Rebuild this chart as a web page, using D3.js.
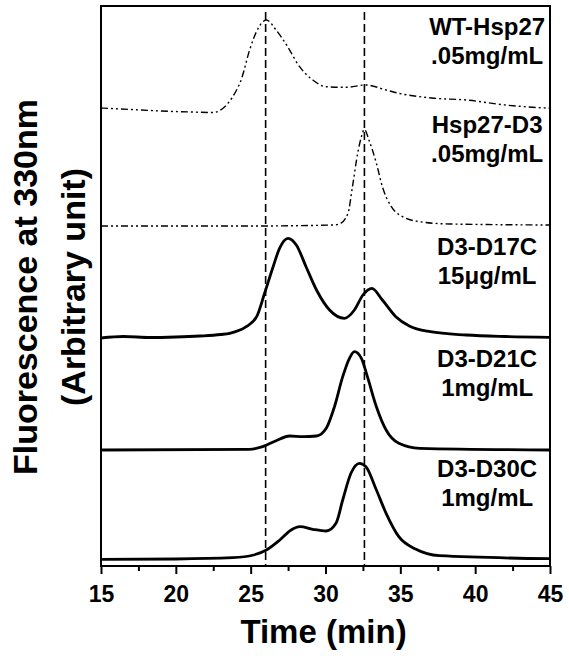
<!DOCTYPE html>
<html>
<head>
<meta charset="utf-8">
<script src="https://cdn.jsdelivr.net/npm/d3@7"></script>
<style>
  body { margin: 0; background: #fff; }
  svg text { font-family: "Liberation Sans", Arial, sans-serif; font-weight: bold; fill: #000; }
</style>
</head>
<body>
<svg id="chart" width="569" height="656"></svg>
<script>
'use strict';

// elution time (min) vs fluorescence, traces stacked with an offset (arbitrary units)
var wtHsp27 = [
	[15, 458], [17, 456.5], [19, 455], [21, 454], [22.5, 453.5], [23.27, 459.3], [23.8, 469.3],
	[24.4, 487.7], [24.93, 516], [25.5, 537.7], [26.05, 546], [26.7, 536], [27.4, 521],
	[28.27, 499.3], [29.15, 486], [30.05, 479.3], [31.4, 478.7], [32.7, 481], [34.05, 476],
	[34.9, 472.7], [37.1, 468], [39.4, 466], [42, 461], [45, 457.7]
];

var hsp27D3 = [
	[15, 340], [25, 340], [30.5, 341], [30.93, 342], [31.5, 352.7], [31.8, 379.3], [32.15, 412.7],
	[32.4, 429.3], [32.6, 436.7], [32.9, 426], [33.4, 402.7], [33.8, 379.3], [34.4, 359.3],
	[35.15, 349.3], [36.3, 344.3], [38.3, 342], [45, 341]
];

var d3D17C = [
	[15, 228], [16.5, 229.5], [18.3, 228.5], [20, 229], [21.6, 230], [23, 231.5], [23.6, 232.7],
	[24.7, 239.3], [25.4, 249.3], [25.93, 272.7], [26.5, 299.3], [26.93, 317.7], [27.5, 327.7],
	[28.05, 321], [28.7, 299.3], [29.4, 276], [30.27, 256], [31.27, 247.7], [31.93, 256],
	[32.5, 271], [33.1, 277.7], [33.8, 266], [34.7, 249.3], [35.6, 240], [37, 234.3],
	[39.4, 231], [42, 229.5], [45, 228.7]
];

var d3D21C = [
	[15, 116], [24.9, 116.7], [25.8, 119.3], [26.7, 125.3], [27.6, 130], [28.5, 129.3],
	[29.4, 130], [30.05, 137.7], [30.6, 159.3], [31.15, 189.3], [31.6, 207.7], [31.93, 214.3],
	[32.4, 207.7], [32.8, 189.3], [33.4, 159.3], [34.05, 136], [34.9, 122.7], [36.3, 117.7],
	[45, 116]
];

var d3D30C = [
	[15, 6.7], [20, 7], [23.8, 8.3], [25.2, 11], [26.05, 16], [26.95, 26], [27.7, 36],
	[28.3, 39.3], [29.15, 36.7], [30.05, 35], [30.7, 42.7], [31.15, 66], [31.7, 92.7],
	[32.27, 102.7], [32.7, 99.3], [33.4, 76], [34.05, 52.7], [34.9, 29.3], [36.05, 16.7],
	[37.6, 10.3], [45, 7.3]
];

var traceNames = ['WT-Hsp27', 'Hsp27-D3', 'D3-D17C', 'D3-D21C', 'D3-D30C'];
var traceConc = ['.05mg/mL', '.05mg/mL', '15\u03bcg/mL', '1mg/mL', '1mg/mL'];
var traceStyle = ['dashdot', 'dashdot', 'solid', 'solid', 'solid'];
var refTimes = [26.0, 32.6];   // dashed reference lines
var xTicks = [15, 20, 25, 30, 35, 40, 45];
var xMinorTicks = [17.5, 22.5, 27.5, 32.5, 37.5, 42.5];

var traces = [wtHsp27, hsp27D3, d3D17C, d3D21C, d3D30C];

// layout
var plotL = 101, plotR = 550, plotT = 6, plotB = 566;
var svg = d3.select('#chart');

var x = d3.scaleLinear().domain([15, 45]).range([plotL, plotR]);
var y = d3.scaleLinear().domain([0, 560]).range([plotB, plotT]);

// - dashed reference lines
svg.selectAll('line.ref')
	.data(refTimes)
	.join('line')
		.attr('class', 'ref')
		.attr('x1', d => x(d)).attr('x2', d => x(d))
		.attr('y1', plotT + 6).attr('y2', plotB)
		.attr('stroke', '#000')
		.attr('stroke-width', 1.6)
		.attr('stroke-dasharray', '8,4');

// - traces
var line = d3.line()
	.x(d => x(d[0]))
	.y(d => y(d[1]))
	.curve(d3.curveMonotoneX);

svg.selectAll('path.trace')
	.data(traces)
	.join('path')
		.attr('class', 'trace')
		.attr('d', line)
		.attr('fill', 'none')
		.attr('stroke', '#000')
		.attr('stroke-linejoin', 'round')
		.attr('stroke-width', (d, i) => traceStyle[i] == 'solid' ? 2.8 : 1.4)
		.attr('stroke-dasharray', (d, i) => traceStyle[i] == 'solid' ? null : '7,3,2,3,2,3');

// - frame
svg.append('rect')
	.attr('x', plotL).attr('y', plotT)
	.attr('width', plotR - plotL).attr('height', plotB - plotT)
	.attr('fill', 'none')
	.attr('stroke', '#000')
	.attr('stroke-width', 2);

// - x axis
var xAxis = d3.axisBottom(x)
	.tickValues(xTicks)
	.tickSize(8)
	.tickPadding(12)
	.tickFormat(d3.format('d'));

var gx = svg.append('g')
	.attr('transform', `translate(0,${plotB})`)
	.call(xAxis);
gx.select('.domain').remove();
gx.selectAll('.tick line').attr('stroke-width', 2);
gx.selectAll('.tick text')
	.attr('font-size', 23)
	.attr('font-family', '"Liberation Sans", Arial, sans-serif')
	.attr('font-weight', 'bold');

var gxMinor = svg.append('g')
	.attr('transform', `translate(0,${plotB})`)
	.call(d3.axisBottom(x).tickValues(xMinorTicks).tickSize(5).tickFormat(''));
gxMinor.select('.domain').remove();
gxMinor.selectAll('.tick line').attr('stroke-width', 2);

// - labels on the traces
var labelX = x(40.8);
var labelY = [35, 133, 255, 367, 477];   // baseline of first line
traceNames.forEach((name, i) =>
{
	let t = svg.append('text')
		.attr('x', labelX)
		.attr('y', labelY[i])
		.attr('text-anchor', 'middle')
		.attr('font-size', 24);
	t.append('tspan').attr('x', labelX).text(name);
	t.append('tspan').attr('x', labelX).attr('dy', 29).text(traceConc[i]);
});

// - axis titles
svg.append('text')
	.attr('x', (plotL + plotR) / 2 - 2)
	.attr('y', 643)
	.attr('text-anchor', 'middle')
	.attr('font-size', 33)
	.text('Time (min)');

var yTitle = svg.append('text')
	.attr('transform', 'translate(37,287) rotate(-90)')
	.attr('text-anchor', 'middle')
	.attr('font-size', 34);
yTitle.append('tspan').attr('x', 0).attr('y', 0).text('Fluorescence at 330nm');
yTitle.append('tspan').attr('x', 0).attr('y', 48).text('(Arbitrary unit)');
</script>
</body>
</html>
